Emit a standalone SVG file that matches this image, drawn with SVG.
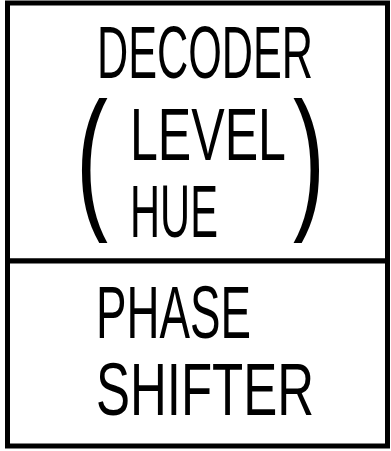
<svg xmlns="http://www.w3.org/2000/svg" width="391" height="451" viewBox="0 0 391 451">
<style>
.t{font-family:"Liberation Sans","DejaVu Sans",sans-serif;font-size:74px;fill:#000}
.p{font-family:"Liberation Sans","DejaVu Sans",sans-serif;font-size:80px;fill:#000}
.b{fill:#fff;stroke:#000;stroke-width:5}
</style>
<rect x="0" y="0" width="391" height="451" fill="#fff"/>
<g id="decoder">
<rect class="b" x="7.5" y="3" width="380" height="258"/>
<text class="t" transform="translate(97,78) scale(0.584,1)">DECODER</text>
<text class="p" transform="translate(76,211) scale(1.2,1.95)">(</text>
<text class="t" transform="translate(130,160) scale(0.677,1)">LEVEL</text>
<text class="t" transform="translate(130,237) scale(0.563,1)">HUE</text>
<text class="p" transform="translate(293,211) scale(1.2,1.95)">)</text>
</g>
<g id="phase_shifter">
<rect class="b" x="7.5" y="261" width="380" height="185"/>
<text class="t" transform="translate(96,338) scale(0.618,1)">PHASE</text>
<text class="t" transform="translate(96,415) scale(0.689,1)">SHIFTER</text>
</g>
<g id="connectors"></g>
</svg>
